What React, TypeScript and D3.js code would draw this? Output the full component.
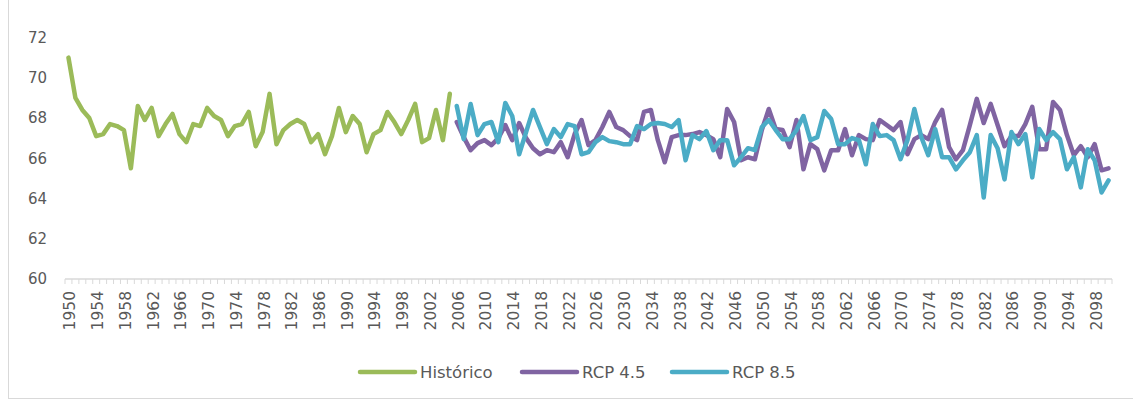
import React from 'react';
import * as d3 from 'd3';

const years = d3.range(1950, 2101);
const histYears = d3.range(1950, 2006);
const rcpYears = d3.range(2006, 2101);

const historico = [
  71.0, 69.0, 68.4, 68.0, 67.1, 67.2, 67.7, 67.6, 67.4, 65.5,
  68.6, 67.9, 68.5, 67.1, 67.7, 68.2, 67.2, 66.8, 67.7, 67.6,
  68.5, 68.1, 67.9, 67.1, 67.6, 67.7, 68.3, 66.6, 67.3, 69.2,
  66.7, 67.4, 67.7, 67.9, 67.7, 66.8, 67.2, 66.2, 67.1, 68.5,
  67.3, 68.1, 67.7, 66.3, 67.2, 67.4, 68.3, 67.8, 67.2, 67.9,
  68.7, 66.8, 67.0, 68.4, 66.9, 69.2,
];

const rcp45 = [
  67.8, 67.05, 66.4, 66.75, 66.9, 66.65, 67.0, 67.65, 66.9, 67.75,
  67.0, 66.5, 66.2, 66.4, 66.3, 66.8, 66.05, 67.2, 67.9, 66.65,
  66.9, 67.55, 68.3, 67.55, 67.4, 67.1, 66.9, 68.3, 68.4, 66.9,
  65.8, 67.05, 67.15, 67.15, 67.2, 67.3, 67.15, 66.95, 66.05, 68.45,
  67.8, 65.9, 66.05, 65.95, 67.4, 68.45, 67.45, 67.4, 66.55, 67.9,
  65.45, 66.7, 66.45, 65.4, 66.4, 66.4, 67.45, 66.15, 67.15, 66.95,
  66.9, 67.9, 67.65, 67.4, 67.8, 66.2, 66.95, 67.15, 66.95, 67.8,
  68.4, 66.55, 65.95, 66.4, 67.65, 68.95, 67.75, 68.7, 67.65, 66.6,
  67.1, 67.1, 67.7, 68.55, 66.45, 66.45, 68.8, 68.4, 67.15, 66.15,
  66.6, 66.05, 66.7, 65.4, 65.5,
];

const rcp85 = [
  68.6, 66.95, 68.7, 67.15, 67.7, 67.8, 66.8, 68.75, 68.1, 66.2,
  67.3, 68.4, 67.55, 66.7, 67.45, 67.05, 67.7, 67.6, 66.2, 66.3,
  66.8, 67.05, 66.85, 66.8, 66.7, 66.7, 67.6, 67.45, 67.7, 67.75,
  67.7, 67.55, 67.9, 65.9, 67.15, 66.95, 67.35, 66.4, 66.9, 66.9,
  65.65, 66.05, 66.5, 66.4, 67.55, 67.9, 67.4, 66.95, 66.95, 67.4,
  68.1, 66.9, 67.05, 68.35, 67.95, 66.7, 66.7, 67.0, 66.9, 65.7,
  67.7, 67.1, 67.15, 66.9, 65.95, 66.9, 68.45, 67.05, 66.15, 67.45,
  66.05, 66.05, 65.45, 65.9, 66.3, 67.15, 64.05, 67.15, 66.5, 64.95,
  67.3, 66.7, 67.2, 65.05, 67.45, 66.9, 67.3, 66.95, 65.45, 66.05,
  64.55, 66.45, 65.9, 64.3, 64.9,
];

const yTicks = [60, 62, 64, 66, 68, 70, 72];
const xLabelYears = years.filter((y) => (y - 1950) % 4 === 0);

const series = [
  { name: 'Histórico', color: '#9BBB59', years: histYears, values: historico },
  { name: 'RCP 4.5', color: '#8064A2', years: rcpYears, values: rcp45 },
  { name: 'RCP 8.5', color: '#4BACC6', years: rcpYears, values: rcp85 },
];

const W = 1133;
const H = 403;
const left = 65;
const right = 1112;
const top = 37.5;
const bottom = 279;
const font = '"DejaVu Sans", sans-serif';
const textColor = '#595959';
const axisColor = '#d9d9d9';

export default function App() {
  const x = d3.scaleBand<number>().domain(years).range([left, right]).paddingInner(0);
  const cx = (yr: number) => (x(yr) ?? 0) + x.bandwidth() / 2;
  const y = d3.scaleLinear().domain([60, 72]).range([bottom, top]);

  const line = d3
    .line<[number, number]>()
    .x((d) => cx(d[0]))
    .y((d) => y(d[1]));

  const tickXs = years.map((yr) => x(yr) ?? 0).concat([right]);

  const legendItems = [
    { lx: 360, tx: 420 },
    { lx: 522, tx: 582 },
    { lx: 672, tx: 732 },
  ];

  return (
    <div style={{ position: 'fixed', left: 0, top: 0 }}>
      <svg width={W} height={H} style={{ display: 'block', background: '#fff' }}>
        {/* chart frame */}
        <rect x={8.5} y={-2} width={W + 10} height={400.5} fill="none" stroke={axisColor} />

        {/* y labels */}
        <g fontFamily={font} fontSize={15} fill={textColor}>
          {yTicks.map((t) => (
            <text key={t} x={47} y={y(t)} dy="0.35em" textAnchor="end">
              {t}
            </text>
          ))}
        </g>

        {/* x axis */}
        <line x1={left} x2={right} y1={bottom} y2={bottom} stroke={axisColor} strokeWidth={1.3} />
        {tickXs.map((tx, i) => (
          <line key={i} x1={tx} x2={tx} y1={bottom} y2={bottom + 5} stroke={axisColor} strokeWidth={1} />
        ))}
        <g fontFamily={font} fontSize={15.5} fill={textColor}>
          {xLabelYears.map((yr) => (
            <text
              key={yr}
              transform={`translate(${cx(yr) + 1.5},${bottom + 12}) rotate(-90)`}
              dy="0.35em"
              textAnchor="end"
            >
              {yr}
            </text>
          ))}
        </g>

        {/* series */}
        {series.map((s) => (
          <path
            key={s.name}
            d={line(s.years.map((yr, i) => [yr, s.values[i]] as [number, number])) ?? ''}
            fill="none"
            stroke={s.color}
            strokeWidth={4.5}
            strokeLinejoin="round"
            strokeLinecap="round"
          />
        ))}

        {/* legend */}
        <g fontFamily={font} fontSize={16.5} fill={textColor}>
          {series.map((s, i) => (
            <g key={s.name}>
              <line
                x1={legendItems[i].lx}
                x2={legendItems[i].lx + 55}
                y1={372}
                y2={372}
                stroke={s.color}
                strokeWidth={4.5}
                strokeLinecap="round"
              />
              <text x={legendItems[i].tx} y={372} dy="0.35em">
                {s.name}
              </text>
            </g>
          ))}
        </g>
      </svg>
    </div>
  );
}
